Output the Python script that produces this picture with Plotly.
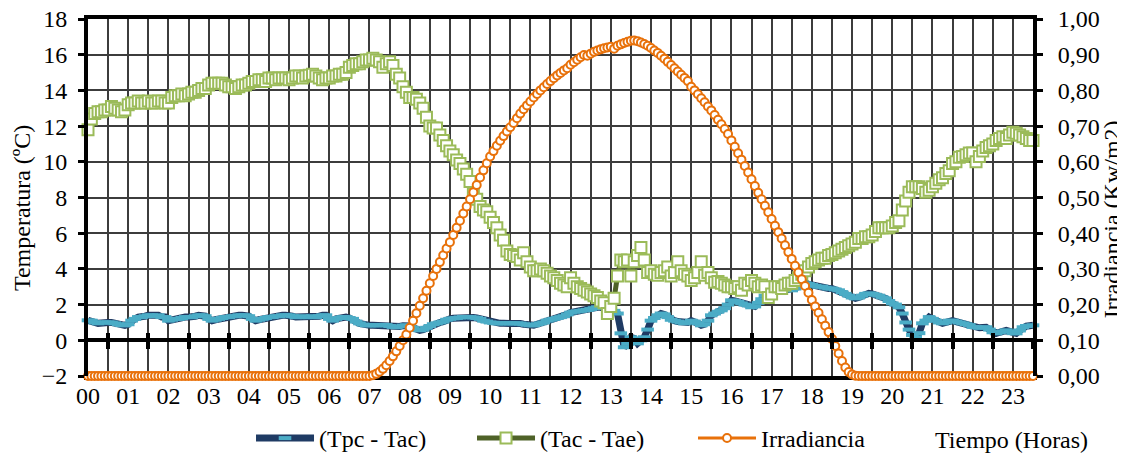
import plotly.graph_objects as go

HOUR_LABELS = ["00", "01", "02", "03", "04", "05", "06", "07", "08", "09", "10", "11",
               "12", "13", "14", "15", "16", "17", "18", "19", "20", "21", "22", "23"]

# (Tpc - Tac) in ºC, 5-minute samples from 00:00 to 23:30
TPC_TAC = [
    1.12, 1.10, 1.00, 0.95, 1.00, 1.00, 1.00, 1.00, 0.95, 0.90, 0.85, 0.84,
    0.90, 1.10, 1.20, 1.30, 1.30, 1.35, 1.40, 1.40, 1.35, 1.40, 1.30, 1.30,
    1.10, 1.15, 1.20, 1.20, 1.25, 1.30, 1.30, 1.30, 1.35, 1.40, 1.40, 1.35,
    1.20, 1.10, 1.15, 1.20, 1.25, 1.30, 1.30, 1.35, 1.35, 1.40, 1.40, 1.40,
    1.35, 1.20, 1.10, 1.15, 1.20, 1.25, 1.30, 1.30, 1.35, 1.35, 1.40, 1.40,
    1.40, 1.35, 1.30, 1.30, 1.35, 1.30, 1.30, 1.35, 1.30, 1.35, 1.40, 1.40,
    1.20, 1.10, 1.20, 1.25, 1.30, 1.30, 1.25, 1.20, 1.05, 0.95, 0.88, 0.84,
    0.84, 0.85, 0.84, 0.84, 0.86, 0.85, 0.80, 0.75, 0.73, 0.78, 0.82, 0.84,
    0.80, 0.70, 0.60, 0.56, 0.60, 0.70, 0.80, 0.90, 0.95, 1.00, 1.05, 1.15,
    1.20, 1.23, 1.25, 1.28, 1.30, 1.30, 1.30, 1.28, 1.25, 1.20, 1.10, 1.05,
    1.00, 0.98, 0.95, 0.95, 0.95, 0.96, 0.95, 0.95, 0.95, 0.94, 0.90, 0.87,
    0.84, 0.84, 0.90, 0.95, 1.00, 1.10, 1.15, 1.20, 1.25, 1.30, 1.35, 1.45,
    1.55, 1.60, 1.62, 1.65, 1.68, 1.70, 1.75, 1.80, 1.85, 1.85, 1.82, 1.80,
    1.75, 1.65, 1.50, 0.39, -0.39, -0.20, 0.17, 0.10, -0.17, 0.00, 0.17, 0.60,
    1.10, 1.25, 1.40, 1.50, 1.45, 1.30, 1.15, 1.10, 1.05, 1.00, 0.95, 1.00,
    1.10, 1.05, 0.95, 0.84, 0.90, 1.10, 1.40, 1.50, 1.60, 1.68, 1.80, 2.00,
    2.24, 2.20, 2.15, 2.07, 2.00, 1.95, 1.85, 1.90, 2.10, 2.30, 2.50, 2.65,
    2.80, 2.80, 2.75, 2.80, 2.80, 2.85, 2.80, 2.90, 3.00, 3.10, 3.20, 3.15,
    3.10, 3.05, 3.00, 3.00, 2.95, 2.90, 2.90, 2.85, 2.80, 2.70, 2.60, 2.50,
    2.40, 2.35, 2.40, 2.50, 2.60, 2.63, 2.60, 2.55, 2.50, 2.41, 2.35, 2.20,
    2.07, 2.00, 1.85, 1.50, 1.00, 0.60, 0.30, 0.17, 0.40, 0.95, 1.10, 1.30,
    1.20, 1.10, 1.00, 0.95, 1.00, 1.10, 1.10, 1.05, 1.00, 0.95, 0.90, 0.85,
    0.75, 0.73, 0.70, 0.72, 0.73, 0.60, 0.45, 0.39, 0.45, 0.50, 0.56, 0.50,
    0.40, 0.39, 0.55, 0.73, 0.80, 0.82, 0.84,
]

# (Tac - Tae) in ºC
TAC_TAE = [
    11.8, 12.4, 12.7, 12.8, 12.8, 12.9, 12.9, 13.1, 13.0, 12.9, 12.8, 12.9,
    13.2, 13.3, 13.3, 13.4, 13.3, 13.3, 13.4, 13.3, 13.3, 13.4, 13.4, 13.3,
    13.3, 13.6, 13.7, 13.7, 13.8, 13.7, 13.8, 13.9, 13.9, 14.0, 14.1, 14.1,
    14.3, 14.4, 14.4, 14.4, 14.4, 14.3, 14.2, 14.2, 14.1, 14.2, 14.3, 14.3,
    14.4, 14.5, 14.5, 14.6, 14.6, 14.5, 14.7, 14.7, 14.6, 14.7, 14.7, 14.7,
    14.6, 14.7, 14.8, 14.8, 14.7, 14.8, 14.85, 14.9, 14.8, 14.7, 14.6, 14.7,
    14.7, 14.8, 14.8, 14.9, 14.9, 15.0, 15.3, 15.4, 15.5, 15.5, 15.6, 15.7,
    15.7, 15.8, 15.7, 15.6, 15.3, 15.5, 15.6, 15.4, 14.9, 14.7, 14.2, 13.9,
    13.6, 13.6, 13.5, 13.3, 13.0, 12.5, 12.0, 11.9, 11.9, 11.5, 11.2, 10.9,
    10.6, 10.4, 10.1, 9.9, 9.6, 9.3, 8.9, 8.2, 7.9, 7.5, 7.3, 7.2,
    6.9, 6.6, 6.3, 5.9, 5.6, 5.0, 4.8, 4.75, 4.7, 4.5, 4.9, 4.4,
    4.1, 3.9, 3.9, 4.0, 3.9, 3.75, 3.6, 3.5, 3.35, 3.2, 3.1, 3.0,
    3.5, 3.2, 3.0, 2.9, 2.8, 2.7, 2.6, 2.5, 2.4, 2.2, 2.1, 1.5,
    1.9, 2.35, 3.6, 4.5, 4.4, 4.5, 3.6, 4.4, 4.75, 5.2, 4.5, 3.8,
    3.9, 3.7, 3.65, 3.8, 3.9, 4.1, 3.6, 3.8, 4.4, 3.9, 3.7, 3.6,
    3.35, 3.5, 3.8, 4.4, 3.65, 3.8, 3.5, 3.25, 3.3, 3.2, 3.1, 3.0,
    3.0, 2.9, 3.0, 2.8, 3.2, 3.1, 3.35, 3.2, 3.0, 3.1, 3.0, 2.4,
    2.6, 3.0, 3.0, 2.9, 3.1, 3.2, 3.2, 3.35, 3.5, 3.7, 3.9, 4.1,
    4.3, 4.4, 4.5, 4.6, 4.6, 4.75, 4.8, 4.9, 5.0, 5.1, 5.2, 5.3,
    5.4, 5.5, 5.7, 5.7, 5.8, 5.8, 5.9, 6.1, 6.3, 6.3, 6.3, 6.3,
    6.4, 6.6, 6.7, 7.3, 7.8, 8.3, 8.6, 8.6, 8.6, 8.5, 8.3, 8.4,
    8.6, 8.8, 9.0, 9.1, 9.35, 9.5, 9.9, 10.0, 10.25, 10.3, 10.4, 10.5,
    10.5, 10.0, 10.3, 10.6, 10.8, 10.9, 11.0, 11.2, 11.3, 11.4, 11.3, 11.5,
    11.65, 11.6, 11.5, 11.4, 11.3, 11.2, 11.2,
]

# Irradiancia in Kw/m2
IRRADIANCIA = [
    0.000, 0.000, 0.000, 0.000, 0.000, 0.000, 0.000, 0.000, 0.000, 0.000, 0.000, 0.000,
    0.000, 0.000, 0.000, 0.000, 0.000, 0.000, 0.000, 0.000, 0.000, 0.000, 0.000, 0.000,
    0.000, 0.000, 0.000, 0.000, 0.000, 0.000, 0.000, 0.000, 0.000, 0.000, 0.000, 0.000,
    0.000, 0.000, 0.000, 0.000, 0.000, 0.000, 0.000, 0.000, 0.000, 0.000, 0.000, 0.000,
    0.000, 0.000, 0.000, 0.000, 0.000, 0.000, 0.000, 0.000, 0.000, 0.000, 0.000, 0.000,
    0.000, 0.000, 0.000, 0.000, 0.000, 0.000, 0.000, 0.000, 0.000, 0.000, 0.000, 0.000,
    0.000, 0.000, 0.000, 0.000, 0.000, 0.000, 0.000, 0.000, 0.000, 0.000, 0.000, 0.000,
    0.000, 0.002, 0.006, 0.012, 0.020, 0.030, 0.042, 0.055, 0.069, 0.084, 0.100, 0.116,
    0.135, 0.155, 0.176, 0.197, 0.218, 0.239, 0.260, 0.280, 0.300, 0.319, 0.338, 0.357,
    0.375, 0.395, 0.415, 0.435, 0.455, 0.475, 0.495, 0.515, 0.535, 0.556, 0.576, 0.596,
    0.615, 0.630, 0.645, 0.659, 0.672, 0.685, 0.697, 0.709, 0.722, 0.735, 0.747, 0.758,
    0.769, 0.780, 0.790, 0.800, 0.809, 0.818, 0.826, 0.834, 0.842, 0.849, 0.856, 0.862,
    0.872, 0.879, 0.886, 0.893, 0.899, 0.897, 0.903, 0.908, 0.912, 0.915, 0.918, 0.920,
    0.922, 0.917, 0.925, 0.929, 0.933, 0.936, 0.939, 0.940, 0.938, 0.934, 0.930, 0.925,
    0.919, 0.912, 0.905, 0.897, 0.889, 0.880, 0.871, 0.862, 0.853, 0.844, 0.835, 0.826,
    0.810, 0.800, 0.789, 0.778, 0.767, 0.755, 0.744, 0.731, 0.718, 0.705, 0.692, 0.678,
    0.660, 0.642, 0.624, 0.606, 0.588, 0.570, 0.551, 0.532, 0.513, 0.495, 0.477, 0.459,
    0.440, 0.421, 0.403, 0.385, 0.366, 0.347, 0.328, 0.309, 0.290, 0.271, 0.252, 0.233,
    0.213, 0.195, 0.177, 0.159, 0.141, 0.123, 0.104, 0.084, 0.063, 0.042, 0.024, 0.011,
    0.004, 0.001, 0.000, 0.000, 0.000, 0.000, 0.000, 0.000, 0.000, 0.000, 0.000, 0.000,
    0.000, 0.000, 0.000, 0.000, 0.000, 0.000, 0.000, 0.000, 0.000, 0.000, 0.000, 0.000,
    0.000, 0.000, 0.000, 0.000, 0.000, 0.000, 0.000, 0.000, 0.000, 0.000, 0.000, 0.000,
    0.000, 0.000, 0.000, 0.000, 0.000, 0.000, 0.000, 0.000, 0.000, 0.000, 0.000, 0.000,
    0.000, 0.000, 0.000, 0.000, 0.000, 0.000, 0.000,
]

LEFT_TICKS = [-2, 0, 2, 4, 6, 8, 10, 12, 14, 16, 18]
RIGHT_TICKS = [0.0, 0.1, 0.2, 0.3, 0.4, 0.5, 0.6, 0.7, 0.8, 0.9, 1.0]
RIGHT_TICK_TEXT = ["0,00", "0,10", "0,20", "0,30", "0,40", "0,50",
                   "0,60", "0,70", "0,80", "0,90", "1,00"]

# time axis in hours (one sample every 5 minutes)
TIME_H = [i * 5 / 60 for i in range(len(IRRADIANCIA))]
HOUR_POS = list(range(len(HOUR_LABELS)))
HALF_HOURS = [h + 0.5 for h in range(len(HOUR_LABELS))]

FONT = "Liberation Serif, Times New Roman, serif"
FS = 24
GRID = "#3c3c3c"

fig = go.Figure()

fig.add_trace(go.Scatter(
    x=TIME_H, y=TPC_TAC, name="(Tpc - Tac)", mode="lines+markers",
    line=dict(color="#1F3B64", width=7),
    marker=dict(symbol="line-ew", size=9, color="#4BACC6",
                line=dict(color="#4BACC6", width=4)),
    cliponaxis=False, xaxis="x", yaxis="y",
))
fig.add_trace(go.Scatter(
    x=TIME_H, y=TAC_TAE, name="(Tac - Tae)", mode="lines+markers",
    line=dict(color="#4F6228", width=5),
    marker=dict(symbol="square", size=11, color="white",
                line=dict(color="#9BBB59", width=2)),
    cliponaxis=False, xaxis="x", yaxis="y",
))
fig.add_trace(go.Scatter(
    x=TIME_H, y=IRRADIANCIA, name="Irradiancia", mode="lines+markers",
    line=dict(color="#E8710A", width=3),
    marker=dict(symbol="circle", size=8, color="white",
                line=dict(color="#E8710A", width=2)),
    cliponaxis=False, xaxis="x", yaxis="y2",
))
# empty helper traces so the crossing axis at y = 0 is drawn
fig.add_trace(go.Scatter(x=[], y=[], xaxis="x2", yaxis="y", showlegend=False, hoverinfo="skip"))
fig.add_trace(go.Scatter(x=[], y=[], xaxis="x3", yaxis="y", showlegend=False, hoverinfo="skip"))

x_range = [0, 23.5]
y_range = [-2, 18]
zero_pos = (0 - y_range[0]) / (y_range[1] - y_range[0])

fig.update_layout(
    width=1125, height=455,
    margin=dict(l=80, r=100, t=11, b=87, autoexpand=False),
    paper_bgcolor="white", plot_bgcolor="white",
    font=dict(family=FONT, size=FS, color="black"),
    showlegend=True,
    legend=dict(orientation="h", x=0.1725, xanchor="left", y=-0.175, yanchor="middle",
                font=dict(family=FONT, size=FS, color="black"),
                entrywidth=148, entrywidthmode="pixels", itemwidth=58,
                bgcolor="rgba(0,0,0,0)", traceorder="normal"),
    xaxis=dict(
        range=x_range, tickmode="array", tickvals=HOUR_POS, ticktext=HOUR_LABELS,
        showgrid=True, gridcolor=GRID, gridwidth=1.5,
        minor=dict(dtick=0.5, tick0=0, showgrid=True, gridcolor=GRID, gridwidth=1.5),
        showline=True, linecolor="black", linewidth=3.5, mirror=True,
        ticks="", ticklabelstandoff=-5, zeroline=False, layer="below traces",
        automargin=False, ticklabeloverflow="allow", tickfont=dict(family=FONT, size=FS),
    ),
    xaxis2=dict(
        range=x_range, overlaying="x", anchor="free", position=zero_pos,
        tickmode="array", tickvals=HALF_HOURS, showticklabels=False,
        ticks="outside", ticklen=7, tickwidth=3.5, tickcolor="black",
        showline=True, linecolor="black", linewidth=3.5, showgrid=False, zeroline=False,
    ),
    xaxis3=dict(
        range=x_range, overlaying="x", anchor="free", position=zero_pos,
        tickmode="array", tickvals=HALF_HOURS, showticklabels=False,
        ticks="inside", ticklen=7, tickwidth=3.5, tickcolor="black",
        showline=False, showgrid=False, zeroline=False,
    ),
    yaxis=dict(
        range=y_range, tickmode="array", tickvals=LEFT_TICKS,
        showgrid=True, gridcolor=GRID, gridwidth=1.5, zeroline=False,
        showline=True, linecolor="black", linewidth=4,
        ticks="outside", ticklen=6, tickwidth=3, tickcolor="black",
        ticklabelstandoff=6, automargin=False, ticklabeloverflow="allow",
        tickfont=dict(family=FONT, size=FS),
    ),
    yaxis2=dict(
        range=[0, 1.0], overlaying="y", side="right", tickmode="array",
        tickvals=RIGHT_TICKS, ticktext=RIGHT_TICK_TEXT,
        showgrid=False, zeroline=False,
        showline=True, linecolor="black", linewidth=4,
        ticks="outside", ticklen=6, tickwidth=3, tickcolor="black",
        ticklabelstandoff=10, automargin=False, ticklabeloverflow="allow",
        tickfont=dict(family=FONT, size=FS),
    ),
    annotations=[
        dict(text="Temperatura (ºC)", textangle=-90, xref="paper", yref="paper",
             x=-0.07, y=0.47, xanchor="center", yanchor="middle", showarrow=False,
             font=dict(family=FONT, size=FS)),
        dict(text="Irradiancia (Kw/m2)", textangle=-90, xref="paper", yref="paper",
             x=1.084, y=0.44, xanchor="center", yanchor="middle", showarrow=False,
             font=dict(family=FONT, size=FS)),
        dict(text="Tiempo (Horas)", xref="paper", yref="paper",
             x=1.06, y=-0.18, xanchor="right", yanchor="middle", showarrow=False,
             font=dict(family=FONT, size=FS)),
    ],
)

fig.write_html("out.html")
